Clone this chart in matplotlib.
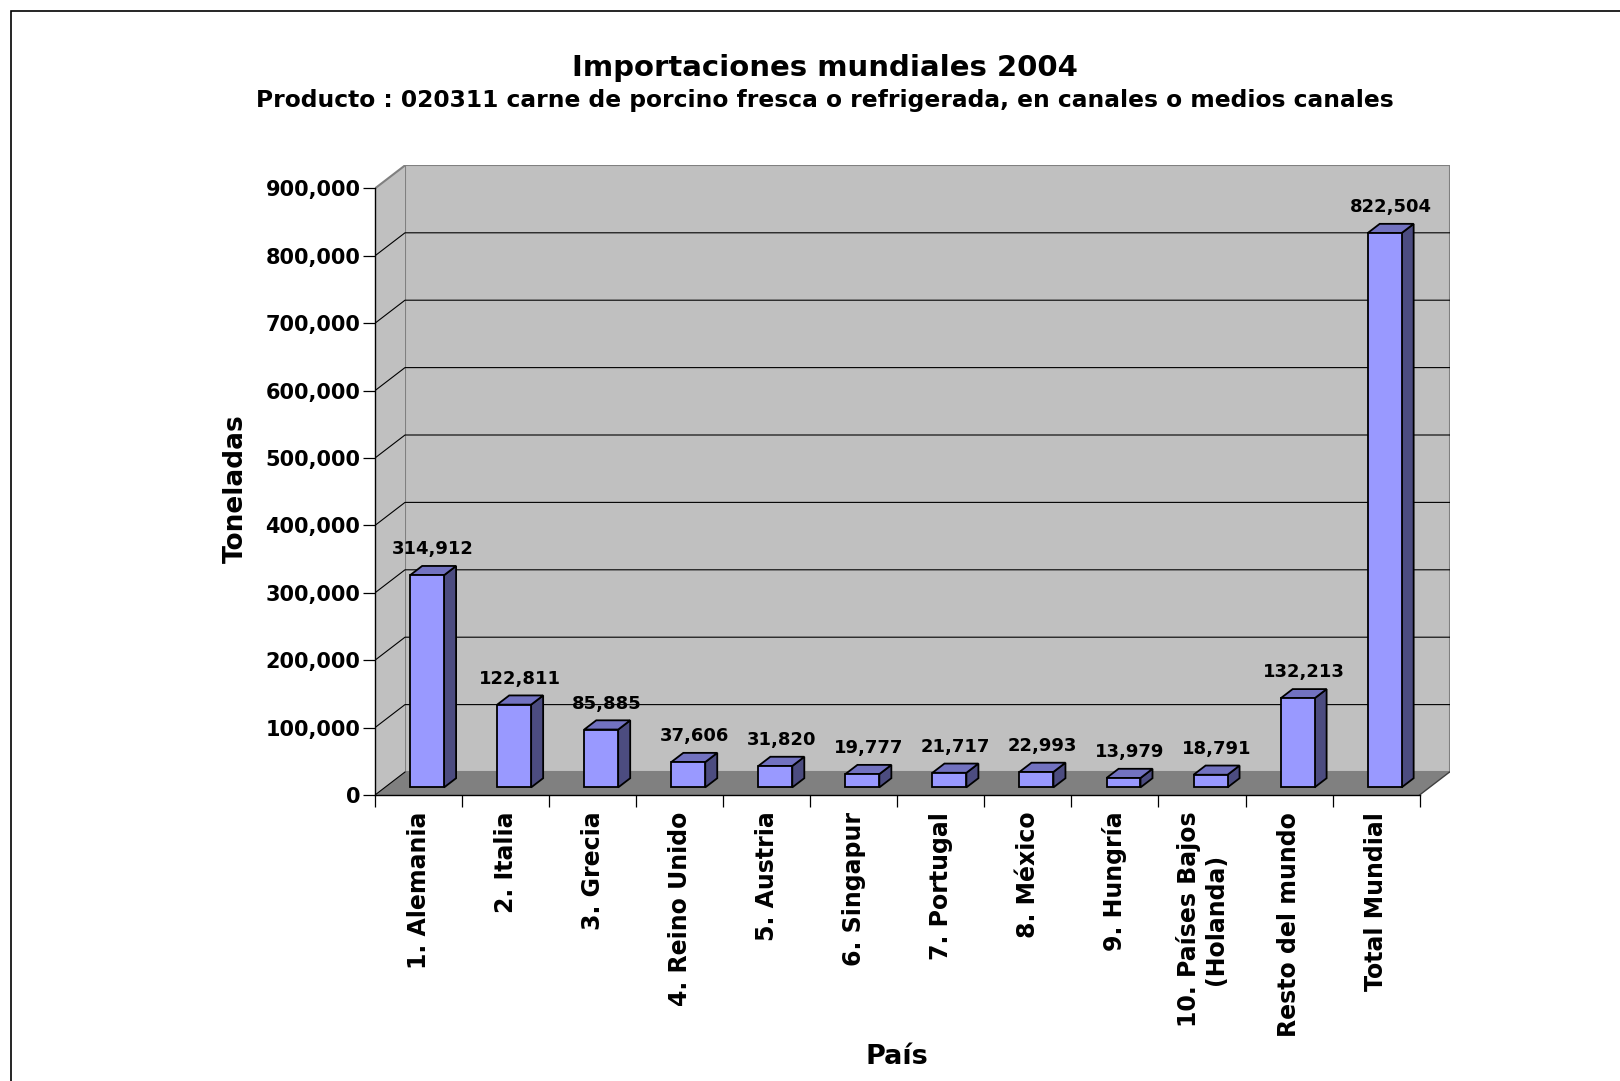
import numpy as np
import matplotlib
matplotlib.use("Agg")
import matplotlib.pyplot as plt
from matplotlib.patches import Polygon, Rectangle

# data
categories = ["1. Alemania", "2. Italia", "3. Grecia", "4. Reino Unido", "5. Austria",
              "6. Singapur", "7. Portugal", "8. México", "9. Hungría",
              "10. Países Bajos\n(Holanda)", "Resto del mundo", "Total Mundial"]
toneladas = [314912, 122811, 85885, 37606, 31820, 19777, 21717, 22993,
             13979, 18791, 132213, 822504]
y_ticks = list(range(0, 900001, 100000))

title = "Importaciones mundiales 2004"
subtitle = "Producto : 020311 carne de porcino fresca o refrigerada, en canales o medios canales"

plt.rcParams["font.weight"] = "bold"

W, H = 1620, 1081
fig = plt.figure(figsize=(W / 100, H / 100), dpi=100)

# layout of the front plane, in pixels
x0_px, y0_px = 375, 795
cat_px = 87.05
val_px = 67.4 / 100000
dx_px, dy_px = 30, 23

n = len(categories)
ymax = y_ticks[-1]
ddx = dx_px / cat_px
ddy = dy_px / val_px
ax_w = (n + ddx) * cat_px
ax_h = (ymax + ddy) * val_px
ax = fig.add_axes([x0_px / W, (H - y0_px) / H, ax_w / W, ax_h / H])
ax.set_xlim(0, n + ddx)
ax.set_ylim(0, ymax + ddy)
ax.patch.set_visible(False)


# x = category, y = value, z = depth (0 front, 1 back)
def proj(x, y, z):
    return (x + z * ddx, y + z * ddy)


wall = "#c0c0c0"
ax.add_patch(Polygon([proj(0, 0, 1), proj(n, 0, 1), proj(n, ymax, 1), proj(0, ymax, 1)],
                     closed=True, fc=wall, ec="#808080", lw=1.5, zorder=1))
ax.add_patch(Polygon([proj(0, 0, 0), proj(0, 0, 1), proj(0, ymax, 1), proj(0, ymax, 0)],
                     closed=True, fc=wall, ec="none", zorder=1))
ax.add_patch(Polygon([proj(0, 0, 0), proj(n, 0, 0), proj(n, 0, 1), proj(0, 0, 1)],
                     closed=True, fc="#808080", ec="none", zorder=1.1))

# gridlines on side and back walls
for v in y_ticks[:-1]:
    a, b = proj(0, v, 1), proj(n, v, 1)
    xs = [0, a[0]] if v == 0 else [0, a[0], b[0]]
    ys = [v, a[1]] if v == 0 else [v, a[1], b[1]]
    ax.plot(xs, ys, color="black", lw=0.8, zorder=2)
a = proj(0, ymax, 1)
ax.plot([0, a[0]], [ymax, a[1]], color="#808080", lw=1.5, zorder=2)
a, b = proj(n, 0, 0), proj(n, 0, 1)
ax.plot([a[0], b[0]], [a[1], b[1]], color="#404040", lw=1.0, zorder=2)

# 3D bars
bar_l, bar_w = 0.29, 0.39
z0, z1 = 0.33, 0.73
front_c, top_c, side_c = "#9999ff", "#7272c0", "#4c4c80"
for i, v in enumerate(toneladas):
    xl = i + bar_l
    xr = xl + bar_w
    front = [proj(xl, 0, z0), proj(xr, 0, z0), proj(xr, v, z0), proj(xl, v, z0)]
    top = [proj(xl, v, z0), proj(xr, v, z0), proj(xr, v, z1), proj(xl, v, z1)]
    right = [proj(xr, 0, z0), proj(xr, 0, z1), proj(xr, v, z1), proj(xr, v, z0)]
    for pts, c in ((right, side_c), (top, top_c), (front, front_c)):
        ax.add_patch(Polygon(pts, closed=True, fc=c, ec="black", lw=1.3,
                             joinstyle="miter", zorder=3))
    cx, _ = proj(xl + bar_w / 2, v, (z0 + z1) / 2)
    ax.annotate(f"{v:,}", (cx, v + z1 * ddy), xytext=(0, 8.5), textcoords="offset points",
                ha="center", va="baseline", fontsize=13, zorder=4)

# axes
for s in ("top", "right"):
    ax.spines[s].set_visible(False)
ax.spines["left"].set_bounds(0, ymax)
ax.spines["bottom"].set_bounds(0, n)
ax.spines["left"].set_linewidth(1.0)
ax.spines["bottom"].set_linewidth(1.0)

ax.set_yticks(y_ticks)
ax.set_yticklabels([f"{v:,}" for v in y_ticks], fontsize=15)
ax.tick_params(axis="y", direction="out", length=9, width=0.9, pad=1.5)

ax.set_xticks(range(n + 1))
ax.set_xticklabels([])
ax.tick_params(axis="x", which="major", direction="out", length=8.5, width=0.9)
ax.set_xticks(np.arange(n) + 0.5, minor=True)
ax.set_xticklabels(categories, minor=True, rotation=90, fontsize=17)
ax.tick_params(axis="x", which="minor", length=0, pad=12)
for t in ax.get_xticklabels(minor=True):
    t.set_multialignment("center")

# titles
fig.text(824.5 / W, 1 - 76.4 / H, title, ha="center", va="baseline", fontsize=21)
fig.text(824.5 / W, 1 - 107.3 / H, subtitle, ha="center", va="baseline", fontsize=16.8)
fig.text(236 / W, 1 - 489 / H, "Toneladas", ha="center", va="center", rotation=90, fontsize=19)
fig.text(897 / W, 1 - 1064 / H, "País", ha="center", va="baseline", fontsize=19.5)

# chart border
fig.add_artist(Rectangle((11 / W, -0.05), 1.2, 1.05 - 11 / H, transform=fig.transFigure,
                         fill=False, ec="black", lw=1.2))

fig.savefig("out.png", dpi=100)
